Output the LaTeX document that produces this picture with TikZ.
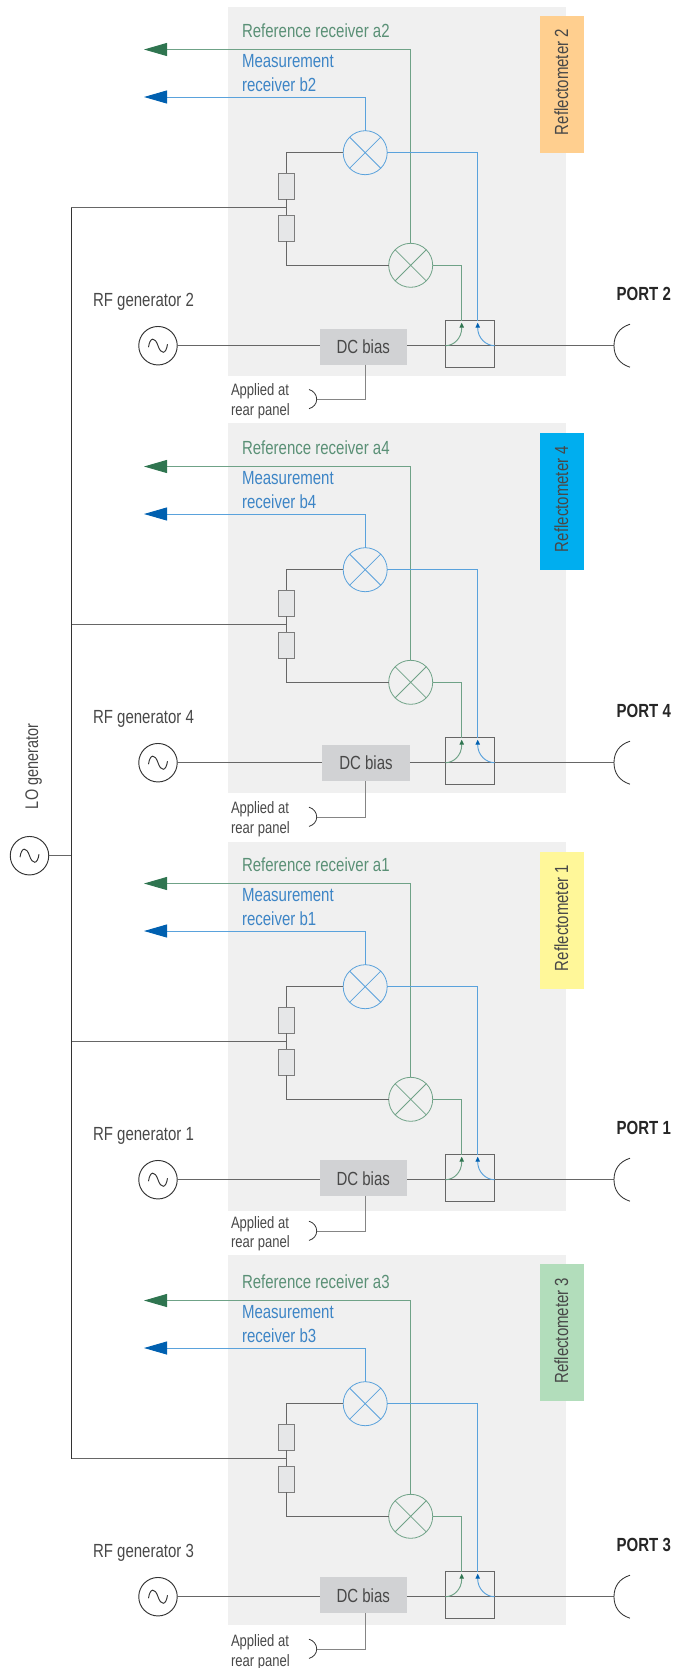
\documentclass[tikz,border=0pt]{standalone}
\usepackage{fontspec}
\setmainfont[FakeStretch=0.79]{Liberation Sans}
\usetikzlibrary{arrows.meta}
\definecolor{panelc}{HTML}{F0F0F0}
\definecolor{dcc}{HTML}{D1D2D4}
\definecolor{resc}{HTML}{E6E7E8}
\definecolor{linec}{HTML}{666666}
\definecolor{darkc}{HTML}{333333}
\definecolor{txtc}{HTML}{484848}
\definecolor{gline}{HTML}{6FA287}
\definecolor{bline}{HTML}{5AA2DC}
\definecolor{gdark}{HTML}{2F7550}
\definecolor{bdark}{HTML}{0060B0}
\definecolor{gtext}{HTML}{5A9076}
\definecolor{btext}{HTML}{3D85C6}
\definecolor{refa}{HTML}{FFCF8F}
\definecolor{refb}{HTML}{00AEEF}
\definecolor{refc}{HTML}{FFF799}
\definecolor{refd}{HTML}{B2DDBB}
\tikzset{
  x=1pt,y=-1pt,
  wire/.style={draw=linec,line width=0.95pt},
  gwire/.style={draw=gline,line width=0.95pt},
  bwire/.style={draw=bline,line width=0.95pt},
  tailwire/.style={draw=linec!80,line width=1pt},
  mixer/.style={circle,draw,line width=0.8pt,minimum size=44pt,inner sep=0pt,outer sep=0pt},
  gmixer/.style={mixer,draw=gline},
  bmixer/.style={mixer,draw=bline},
  gener/.style={circle,draw=darkc,line width=0.95pt,minimum size=38.5pt,inner sep=0pt,outer sep=0pt},
  resist/.style={rectangle,draw=linec!85,fill=resc,line width=0.95pt,minimum width=16pt,minimum height=26pt,inner sep=0pt,outer sep=0pt},
  dcbox/.style={rectangle,fill=dcc,minimum width=87.5pt,minimum height=36pt,inner sep=0pt,outer sep=0pt,text=txtc,font=\fontsize{19}{19}\selectfont},
  coupler/.style={rectangle,draw=linec,line width=0.95pt,minimum width=49pt,minimum height=46.5pt,inner sep=0pt,outer sep=0pt},
  lab/.style={anchor=base west,inner sep=0pt,outer sep=0pt,font=\fontsize{19}{19}\selectfont,text=txtc},
  glab/.style={lab,text=gtext},
  blab/.style={lab,text=btext},
  smalllab/.style={lab,font=\fontsize{16.5}{16.5}\selectfont},
  portlab/.style={lab,font=\fontsize{19}{19}\bfseries\selectfont,text=black!85},
  gbig/.style={-{Triangle[length=23pt,width=13pt,color=gdark]}},
  bbig/.style={-{Triangle[length=23pt,width=13pt,color=bdark]}},
  gsmall/.style={-{Triangle[length=5pt,width=4.5pt,color=gdark]}},
  bsmall/.style={-{Triangle[length=5pt,width=4.5pt,color=bdark]}},
}
\newcommand{\sinewave}[1]{\draw[line width=0.95pt,draw=darkc,shift={(#1.center)}] (-9.5,1.5) .. controls (-8,-9) and (-3,-9) .. (0,0) .. controls (3,9) and (8,9) .. (9.5,-1.5);}
\begin{document}
\begin{tikzpicture}
\useasboundingbox (0,0) rectangle (673,1668);
\coordinate (lobus) at (71,855.7);
\foreach \id/\off/\ptop/\pbot/\rtop/\col/\dcx/\dcy/\taily/\apply in {
  2/0/7/376/15.7/refa/363.25/346.7/399.3/395.7,
  4/417/423/792.5/432.7/refb/366/763/817/813.7,
  1/834/841.5/1210.5/851.7/refc/363.25/1178.2/1231/1228,
  3/1251/1255/1625/1264.3/refd/363.25/1595.3/1649/1646.7}{
  \fill[panelc] (228,\ptop) rectangle (566,\pbot);
  \node[rectangle,fill=\col,minimum width=44pt,minimum height=137pt,anchor=north west,inner sep=0pt,outer sep=0pt] (refl\id) at (540.3,\rtop) {};
  \node[lab,rotate=90] (refltxt\id) at ([xshift=5.7pt,yshift=17.7pt]refl\id.south) {Reflectometer \id};
  \node[dcbox] (dc\id) at (\dcx,\dcy) {DC bias};
  \coordinate (tc\id) at (365,\taily);
  \coordinate (te\id) at (316.7,\taily);
  \draw[tailwire] (dc\id.south -| tc\id) -- (tc\id) -- (te\id);
  \draw[line width=0.8pt,draw=darkc,shift={(te\id)}] (-7.7,-9.8) .. controls (-3,-8.5) and (0,-4.5) .. (0,0) .. controls (0,4.5) and (-3,8) .. (-7.7,9.4);
  \node[smalllab] (apa\id) at (231,\apply) {Applied at};
  \node[smalllab] (apb\id) at (231,\apply+19.3) {rear panel};
  \begin{scope}[shift={(0,\off)}]
    \node[glab] (ta\id) at (242,37.3) {Reference receiver a\id};
    \node[blab] (tb\id) at (242,67.8) {Measurement};
    \node[blab] (tc2\id) at (242,91) {receiver b\id};
    \node[lab] (tg\id) at (93,306) {RF generator \id};
    \node[portlab] (tp\id) at (616.7,300) {PORT \id};
    \coordinate (gtip\id) at (144,49.5);
    \coordinate (btip\id) at (144,97);
    \node[gener] (gen\id) at (158,345.7) {};
    \sinewave{gen\id}
    \coordinate (port\id) at (614,345.7);
    \node[resist] (ra\id) at (286.4,186.4) {};
    \node[resist] (rb\id) at (286.4,228.2) {};
    \coordinate (rj\id) at (286.4,207.5);
    \draw[wire] (gen\id.east) -- (gen\id.east -| dc\id.west);
    \draw[wire] (gen\id.east -| dc\id.east) -- (port\id);
    \draw[line width=0.85pt,draw=darkc,shift={(port\id)}] (16,-21.5) .. controls (5,-18) and (0,-10) .. (0,0) .. controls (0,10) and (5,18) .. (16,21.5);
    \node[coupler] (cp\id) at (470,343.75) {};
    \node[gmixer] (mg\id) at (410.7,265.3) {};
    \node[bmixer] (mb\id) at (365.2,152.7) {};
    \draw[gwire,line width=0.8pt] (mg\id.45) -- (mg\id.225) (mg\id.135) -- (mg\id.315);
    \draw[bwire,line width=0.8pt] (mb\id.45) -- (mb\id.225) (mb\id.135) -- (mb\id.315);
    \draw[wire] (ra\id.south) -- (rb\id.north);
    \draw[wire] (mb\id.west) -| (ra\id.north);
    \draw[wire] (rb\id.south) |- (mg\id.west);
    \draw[gwire,gbig] (mg\id.north) |- (gtip\id);
    \draw[bwire,bbig] (mb\id.north) |- (btip\id);
    \coordinate (gc\id) at (461.7,320.5);
    \coordinate (bc\id) at (477.7,320.5);
    \draw[gwire] (mg\id.east) -| (gc\id);
    \draw[bwire] (mb\id.east) -| (bc\id);
    \draw[gwire,gsmall] (cp\id.west |- port\id) .. controls (454,345.7) and (461.7,338) .. (461.7,328) -- (461.7,322.7);
    \draw[bwire,bsmall] (cp\id.east |- port\id) .. controls (486,345.7) and (477.7,338) .. (477.7,328) -- (477.7,322.7);
    \draw[wire] (lobus |- rj\id) -- (rj\id);
  \end{scope}
}
\node[gener] (lo) at (29.5,855.7) {};
\sinewave{lo}
\draw[wire] (lo.east) -- (lobus);
\draw[draw=darkc,line width=0.95pt] (lobus |- rj2) -- (lobus |- rj3);
\node[lab,rotate=90,font=\fontsize{18.3}{18.3}\selectfont] (lotxt) at (38,809) {LO generator};
\end{tikzpicture}
\end{document}
